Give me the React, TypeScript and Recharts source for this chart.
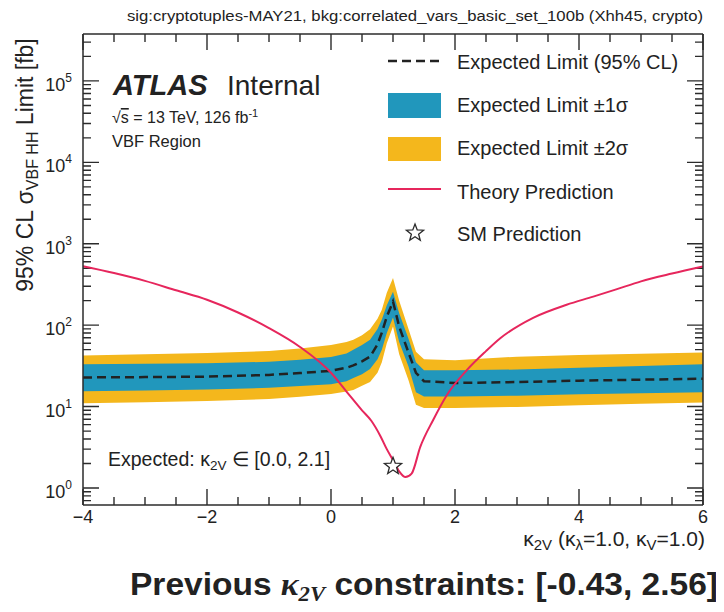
import React from 'react';
import { ComposedChart, Area, Line, Scatter, XAxis, YAxis, Customized } from 'recharts';

// ---------- data ----------
const kappa = [-4, -3, -2, -1, -0.5, 0, 0.25, 0.36, 0.5, 0.63, 0.75, 0.82, 0.9, 1.0, 1.1, 1.25, 1.37, 1.5, 2, 3, 4, 5, 6];
const expMinus2 = [11, 11.3, 11.7, 12.4, 13.2, 14.3, 15.3, 16, 18, 20, 26, 35, 60, 96, 44, 21, 10.5, 9.6, 9.6, 9.9, 10.4, 10.8, 11.2];
const expMinus1 = [15.4, 15.8, 16.2, 17, 17.9, 18.8, 20.5, 22.5, 25, 29, 38, 50, 80, 124, 62, 31, 15, 13.3, 13.3, 13.6, 14.2, 14.6, 15];
const expMedian = [22.8, 23, 23.3, 24.5, 25.8, 27.5, 30, 32, 36, 41, 58, 81, 127, 195, 96, 46, 26, 20.5, 19.5, 20, 20.8, 21.4, 22];
const expPlus1 = [33, 33.5, 34, 35.5, 37.5, 40.5, 45, 50, 57, 66, 90, 117, 175, 257, 140, 68, 35, 28, 28, 28.5, 30, 31.5, 33];
const expPlus2 = [42.5, 44, 45.5, 48, 51.5, 57, 62, 66, 75, 89, 120, 155, 250, 380, 200, 90, 47, 38, 37, 41, 43, 44.5, 46];

const thKappa = [-4, -3.5, -3, -2.5, -2, -1.5, -1, -0.5, 0, 0.25, 0.5, 0.65, 0.8, 0.9, 1.0, 1.1, 1.2, 1.3, 1.44, 1.65, 1.87, 2.19, 2.5, 2.73, 3.26, 3.8, 4.23, 4.6, 5, 5.5, 6];
const thXsec = [530, 437, 350, 268, 205, 143, 92, 54, 26, 15.3, 9, 6.7, 4.3, 3.0, 2.2, 1.6, 1.36, 1.5, 3.2, 6.9, 13.9, 28, 48, 69, 123, 178, 224, 275, 345, 430, 525];

const smKappa = [1.0];
const smXsec = [1.85];

const xMajorTicks = [-4, -2, 0, 2, 4, 6];
const xMinorTicks = [-3.5, -3, -2.5, -1.5, -1, -0.5, 0.5, 1, 1.5, 2.5, 3, 3.5, 4.5, 5, 5.5];
const yMajorTicks = [1, 10, 100, 1000, 10000, 100000];
const yMinorTicks = [0.7, 0.8, 0.9, 2, 3, 4, 5, 6, 7, 8, 9, 20, 30, 40, 50, 60, 70, 80, 90, 200, 300, 400, 500, 600, 700, 800, 900,
  2000, 3000, 4000, 5000, 6000, 7000, 8000, 9000, 20000, 30000, 40000, 50000, 60000, 70000, 80000, 90000, 200000, 300000];

const X_DOMAIN = [-4, 6];
const Y_DOMAIN = [0.618, 377000];

// ---------- layout ----------
const W = 716, H = 604;
const LEFT_W = 75, RIGHT_W = 21, TOP_H = 26, BOTTOM_H = 107;
const PLOT_W = W - LEFT_W - RIGHT_W;
const PLOT_H = H - TOP_H - BOTTOM_H;
const MAJ = 16;
const MIN = 8;

// ---------- derived tables ----------
const bandRows = kappa.map((k, i) => ({
  k,
  band2: [expMinus2[i], expPlus2[i]],
  band1: [expMinus1[i], expPlus1[i]],
  med: expMedian[i],
}));
const theoryRows = thKappa.map((k, i) => ({ k, y: thXsec[i] }));
const smRows = smKappa.map((k, i) => ({ k, y: smXsec[i] }));

// frame tick marks (axis decoration only)
const tx = (v: number) => LEFT_W + (v - X_DOMAIN[0]) / (X_DOMAIN[1] - X_DOMAIN[0]) * PLOT_W;
const ty = (v: number) => TOP_H + (Math.log10(Y_DOMAIN[1]) - Math.log10(v)) / (Math.log10(Y_DOMAIN[1]) - Math.log10(Y_DOMAIN[0])) * PLOT_H;
const xTickDefs = [...xMajorTicks.map(v => ({ v, L: MAJ })), ...xMinorTicks.map(v => ({ v, L: MIN }))];
const yTickDefs = [...yMajorTicks.map(v => ({ v, L: MAJ })), ...yMinorTicks.map(v => ({ v, L: MIN }))];

// ---------- styles ----------
const SANS = '"Liberation Sans", Arial, Helvetica, sans-serif';
const SERIF = '"Liberation Serif", "DejaVu Serif", serif';
const INK = '#222';
const FRAME = '#2b2b2b';
const BLUE = '#2197bc';
const YELLOW = '#f4b71c';
const RED = '#e6265c';

const fmtX = (v: number) => (v < 0 ? '\u2212' + Math.abs(v) : String(v));

const starPoints = (cx: number, cy: number, R: number, r: number) => {
  const pts: string[] = [];
  for (let i = 0; i < 10; i++) {
    const a = (-90 + i * 36) * Math.PI / 180;
    const rr = i % 2 === 0 ? R : r;
    pts.push(`${cx + rr * Math.cos(a)},${cy + rr * Math.sin(a)}`);
  }
  return pts.join(' ');
};

const LeftLabel = (p: any) => {
  const x = Number(p.x), y = Number(p.y);
  const v = p.payload.value;
  return (
    <text x={x - 11} y={y + 10} textAnchor="end" fontSize={18} fontFamily={SANS} fill={INK} stroke="none">
      10<tspan fontSize={12} dy={-9}>{Math.round(Math.log10(v))}</tspan>
    </text>
  );
};

const BottomLabel = (p: any) => {
  const x = Number(p.x), y = Number(p.y);
  return (
    <text x={x} y={y + 18} textAnchor="middle" fontSize={18} fontFamily={SANS} fill={INK} stroke="none">
      {fmtX(p.payload.value)}
    </text>
  );
};

const StarShape = (p: any) => {
  const { cx, cy } = p;
  if (cx == null || cy == null) return null;
  return <polygon points={starPoints(cx, cy, 9, 3.8)} fill="#fff" stroke={FRAME} strokeWidth={1.3} />;
};

const FrameTicks = () => {
  const x0 = LEFT_W, x1 = LEFT_W + PLOT_W, y0 = TOP_H, y1 = TOP_H + PLOT_H;
  let d = '';
  xTickDefs.forEach(({ v, L }) => {
    const x = tx(v);
    d += `M${x},${y1}V${y1 - L}M${x},${y0}V${y0 + L}`;
  });
  yTickDefs.forEach(({ v, L }) => {
    const y = ty(v);
    d += `M${x0},${y}H${x0 + L}M${x1},${y}H${x1 - L}`;
  });
  return <path d={d} stroke={FRAME} strokeWidth={1.4} fill="none" />;
};

const Decor = () => (
  <g fontFamily={SANS} fill={INK}>
    <FrameTicks />
    <text x={695} y={13} textAnchor="end" fontSize={14} textLength={576} lengthAdjust="spacingAndGlyphs">
      sig:cryptotuples-MAY21, bkg:correlated_vars_basic_set_100b (Xhh45, crypto)
    </text>

    <text transform="translate(25,157) rotate(-90)" textAnchor="middle" fontSize={23}>
      95% CL σ<tspan fontSize={16} dy={5}>VBF HH</tspan><tspan dy={-5}> Limit [fb]</tspan>
    </text>

    <text x={697} y={538} textAnchor="end" fontSize={21}>
      κ<tspan fontSize={15} dy={4}>2V</tspan><tspan dy={-4}> (κ</tspan><tspan fontSize={15} dy={4}>λ</tspan><tspan dy={-4}>=1.0, κ</tspan><tspan fontSize={15} dy={4}>V</tspan><tspan dy={-4}>=1.0)</tspan>
    </text>

    <text x={105} y={87} fontSize={29} fontWeight="bold" fontStyle="italic">ATLAS</text>
    <text x={219} y={87} fontSize={28}>Internal</text>
    <text x={104} y={115} fontSize={16}>
      √<tspan textDecoration="overline">s</tspan> = 13 TeV, 126 fb<tspan fontSize={11} dy={-6}>-1</tspan>
    </text>
    <text x={104} y={139} fontSize={16.5}>VBF Region</text>

    <text x={100} y={458} fontSize={19.5}>
      Expected: κ<tspan fontSize={13.5} dy={4}>2V</tspan><tspan dy={-4}> ∈ [0.0, 2.1]</tspan>
    </text>

    {/* legend */}
    <line x1={380} x2={432} y1={53} y2={53} stroke="#222" strokeWidth={2.5} strokeDasharray="9 5" />
    <text x={449} y={61} fontSize={20}>Expected Limit (95% CL)</text>
    <rect x={380} y={85} width={53} height={25} fill={BLUE} />
    <text x={449} y={104} fontSize={20}>Expected Limit ±1σ</text>
    <rect x={380} y={129} width={53} height={24} fill={YELLOW} />
    <text x={449} y={147} fontSize={20}>Expected Limit ±2σ</text>
    <line x1={380} x2={433} y1={181} y2={181} stroke={RED} strokeWidth={2} />
    <text x={449} y={191} fontSize={20}>Theory Prediction</text>
    <polygon points={starPoints(407, 225, 9, 3.8)} fill="#fff" stroke={FRAME} strokeWidth={1.3} />
    <text x={449} y={233} fontSize={20}>SM Prediction</text>

    <text x={122} y={587} fontSize={31} fontWeight="bold" textLength={588} lengthAdjust="spacingAndGlyphs">
      Previous <tspan fontFamily={SERIF} fontStyle="italic">κ</tspan><tspan fontFamily={SERIF} fontStyle="italic" fontSize={21} dy={6}>2V</tspan><tspan dy={-6}> constraints: [-0.43, 2.56]</tspan>
    </text>
  </g>
);

export default function App() {
  const axisLine = { stroke: FRAME, strokeWidth: 1.5 };
  return (
    <div style={{ width: W, height: H }}>
      <ComposedChart width={W} height={H} data={bandRows} margin={{ top: 0, right: 0, bottom: 0, left: 0 }}>
        <XAxis xAxisId="b" dataKey="k" type="number" domain={X_DOMAIN} allowDataOverflow ticks={xMajorTicks} interval={0}
          tickLine={false} tickSize={0} tickMargin={0} height={BOTTOM_H} axisLine={axisLine} tick={BottomLabel} />
        <XAxis xAxisId="t" dataKey="k" orientation="top" type="number" domain={X_DOMAIN} allowDataOverflow ticks={xMajorTicks} interval={0}
          tickLine={false} tick={false} height={TOP_H} axisLine={axisLine} />
        <YAxis yAxisId="l" type="number" scale="log" domain={Y_DOMAIN} allowDataOverflow ticks={yMajorTicks} interval={0}
          tickLine={false} tickSize={0} tickMargin={0} width={LEFT_W} axisLine={axisLine} tick={LeftLabel} />
        <YAxis yAxisId="r" orientation="right" type="number" scale="log" domain={Y_DOMAIN} allowDataOverflow ticks={yMajorTicks} interval={0}
          tickLine={false} tick={false} width={RIGHT_W} axisLine={axisLine} />

        <Area xAxisId="b" yAxisId="l" type="linear" dataKey="band2" stroke="none" fill={YELLOW} fillOpacity={1}
          isAnimationActive={false} dot={false} activeDot={false} />
        <Area xAxisId="b" yAxisId="l" type="linear" dataKey="band1" stroke="none" fill={BLUE} fillOpacity={1}
          isAnimationActive={false} dot={false} activeDot={false} />
        <Line xAxisId="b" yAxisId="l" type="linear" dataKey="med" stroke="#222" strokeWidth={2.5} strokeDasharray="9 5"
          dot={false} activeDot={false} isAnimationActive={false} />
        <Line xAxisId="b" yAxisId="l" data={theoryRows} type="monotone" dataKey="y" stroke={RED} strokeWidth={2}
          dot={false} activeDot={false} isAnimationActive={false} />
        <Scatter xAxisId="b" yAxisId="l" data={smRows} dataKey="y" shape={StarShape} isAnimationActive={false} />
        <Customized component={Decor} />
      </ComposedChart>
    </div>
  );
}
